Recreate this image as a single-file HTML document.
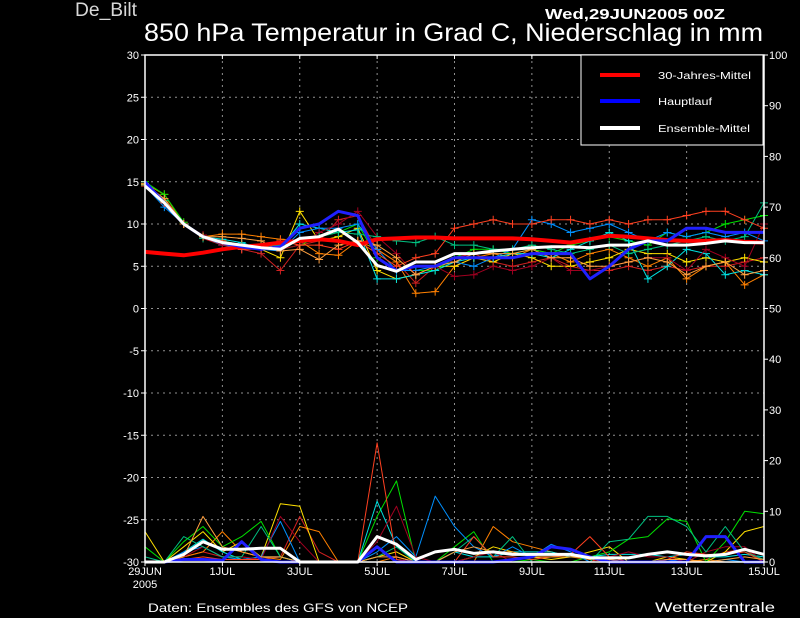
<!DOCTYPE html>
<html><head><meta charset="utf-8"><style>
html,body{margin:0;padding:0;background:#000;}
svg{display:block;font-family:"Liberation Sans",sans-serif;}
</style></head><body>
<svg id="c" width="800" height="618" viewBox="0 0 800 618">
<text x="75" y="16" fill="#d8d8d8" font-size="19" textLength="62" lengthAdjust="spacingAndGlyphs">De_Bilt</text>
<text x="545" y="19" fill="#fff" font-size="15" font-weight="bold" textLength="180" lengthAdjust="spacingAndGlyphs">Wed,29JUN2005 00Z</text>
<text x="144" y="41" fill="#fff" font-size="25" textLength="619" lengthAdjust="spacingAndGlyphs">850 hPa Temperatur in Grad C, Niederschlag in mm</text>
<g id="grid"></g>
<g id="series"></g>
<g id="axes"></g>
<g>
<rect x="581" y="55" width="182" height="90" fill="#000" stroke="#fff" stroke-width="1"/>
<line x1="600" y1="75" x2="640" y2="75" stroke="#ff0000" stroke-width="4"/>
<text x="658" y="79" fill="#fff" font-size="10" textLength="93" lengthAdjust="spacingAndGlyphs">30-Jahres-Mittel</text>
<line x1="600" y1="101" x2="640" y2="101" stroke="#0000ff" stroke-width="4"/>
<text x="658" y="105" fill="#fff" font-size="10" textLength="54" lengthAdjust="spacingAndGlyphs">Hauptlauf</text>
<line x1="600" y1="128" x2="640" y2="128" stroke="#fff" stroke-width="4"/>
<text x="658" y="132" fill="#fff" font-size="10" textLength="92" lengthAdjust="spacingAndGlyphs">Ensemble-Mittel</text>
</g>
<text x="148" y="612" fill="#fff" font-size="12" textLength="260" lengthAdjust="spacingAndGlyphs">Daten: Ensembles des GFS von NCEP</text>
<text x="655" y="612" fill="#fff" font-size="14" textLength="120" lengthAdjust="spacingAndGlyphs">Wetterzentrale</text>
</svg>
<script>
const xLabels=["29JUN","1JUL","3JUL","5JUL","7JUL","9JUL","11JUL","13JUL","15JUL"];
const leftTicks=[30,25,20,15,10,5,0,-5,-10,-15,-20,-25,-30];
const rightTicks=[100,90,80,70,60,50,40,30,20,10,0];
const memberColors=["#d02020","#ff8000","#ffe000","#00e000","#00e0e0","#0090ff","#a00020","#00c080","#ff4020","#ffa040"];
const tempMembers=[
[14.5,13,10.2,8.3,7.5,7,6.5,4.5,7.5,8,10.5,11,7,5.5,3,5,6,6.5,5.5,5,5.5,6,5,4.5,4.5,5,4.5,5,4.5,5,5,5.5,6],
[14.8,13.5,10,8.5,8.8,8.8,8.5,8.2,8,6.5,6.3,8,7,5.5,1.8,2,5,6,6.5,6,7,6.5,5.5,6.5,7,6,5,6,3.5,5,5.5,2.8,4],
[14.6,12.6,10,8.5,8,7.5,7,6,11.5,8,8.5,9.5,4.5,3.5,4,5,5,6,5.5,6.5,6,5,5,5.5,6,7,6.5,6.5,5.5,6,5.5,6,5.5],
[15,13.5,10.2,8.5,8,7.5,7.5,7,7.5,8.5,9,10,6,4.5,4.5,4.5,6,7,7,6.5,7,6.5,7.5,8,8.5,8,7.5,9,8.5,9,10,10.5,11],
[14.7,12.5,10,8.5,8.2,7.8,7,7.2,10,9.5,9,9.3,3.5,3.5,4,4.5,5.5,6,6,6.5,6.5,6,7,8,9,8,3.5,5,7,6.5,4,4.5,4],
[14.5,12,10,8.5,7.5,7.2,7,6.8,9,9.5,9.5,10,7,4.5,4.5,5,5.5,5,6,7,10.5,10,9,9.5,10,9,8,9,8.5,9,8.5,9,8],
[14.5,12.5,10,8.7,7.5,7.5,7,7,7.5,9,10,11.5,8.5,6.5,4,5,3.8,4,5,4.5,5,6,4.5,4.5,5,5.5,6,6,4.5,7,6,5,10],
[14.6,12.8,10,8.3,8,7.5,7.3,7.5,8,8.5,9,8.8,8.5,8,7.8,8.5,7.5,7.5,7,7,7.5,7,6.5,7,7.5,6.5,7,7.5,8,8.5,8,8.5,12.5],
[14.5,12.5,10,8.5,8,7,7,8,7.5,7.5,7,8,6.5,5,6,6.5,9.5,10,10.5,10,10,10.5,10.5,10,10.5,10,10.5,10.5,11,11.5,11.5,10.5,9.5],
[14.7,13,10,8.5,8.5,8.3,8,6.8,7,5.8,7.5,8,7.5,6,4,5,5.5,6.5,6.5,6.5,7,6,6,5,5,5.5,6,5.5,4,5,5.5,4,4.5]];
const precipMembers=[
[0,0,1,2,1,1,0.5,1,9,2,0,0,0,0,0,0,0,0,0,0,0,0,0,0,0,0,0,0,0,0.5,2,2.5,0],
[0,0,1,2,6,2,1,0.5,7,6,0,0,0,1,0,0,0,0,7,4,3,2,1,0.5,0,0,0,0,0,0.5,0,0,0],
[6,0,3,6,2,4,1,11.5,11,0,0,0,1,2,0,0,0,1,3,2,1,0.5,1,2,3,0,0,1,0.5,0,2,6,7],
[3,0,4,7,3,5,8,1,0,0,0,0,9,16,0,0,3,6,0,0,0.5,0,0,1,2,4.5,5,8.5,8,0,4,10,9.5],
[0,0,2,4.5,2,0.5,1,1,0,0,0,0,12,3,0,0,2,1,1,2,2,2,1,1,1.5,1.5,1.5,1,1.5,1,1,1.5,1],
[0,0,2,3,1,0.5,1,8,0,0,0,0,2,5,1,13,7,3,1,3,1,3.5,2,0,0,0,0,0.5,0,0,0.5,0,0],
[0,0,1,3,1,1,0.5,9,4,0,0,0,4,11,1,0,0,1,2,0,0,0,0,0,1,2,1,1,0,2,3,3,0],
[1,0,5,3,1,1,7,1,0,0,0,0,1,3,0,0,2,5,1,5,0,0,0,0,4,4.5,9,9,7,2,7,2,0.5],
[0,0,0.5,1,0.5,0.5,0.5,0,0,0,0,0,23.5,0.5,0,0,0,5,1,1,0.5,1,1.5,5,1,0,0,0.5,2,1.5,1.5,2,0],
[0,0,1,9,3,2,1,1,0,0,0,0,1,1,0,0,2,3,2,2,1,1,1,1,0.5,0,0,0.5,0.5,0,0.5,1,0.5]];
const climateTemp=[6.7,6.5,6.3,6.6,7,7.3,7.5,7.8,8,8.2,8,7.5,8.2,8.3,8.4,8.4,8.3,8.3,8.3,8.3,8.2,8,7.8,8.2,8.6,8.5,8.3,8.1,8,8,8.1,7.9,7.8];
const mainTemp=[15,12.5,10,8.5,7.8,7.3,7,7.3,9.5,10,11.5,11,6,4.5,5,5,6,6,6,6,6.5,6.5,6.5,3.5,5,7,8,8,9.5,9.5,9,9,9];
const meanTemp=[14.5,12.5,10,8.5,7.8,7.5,7.2,7,8.3,8.5,9.4,7.8,5.1,4.4,5.5,5.5,6.5,6.5,6.8,7,7.2,7.3,7.3,7.2,7.5,7.5,8,7.5,7.5,7.7,8,7.8,7.8];
const mainPrecip=[0,0,0.5,0.5,0.3,4,0.5,0,0,0,0,0,3,0,0,0,0,0,0,0.5,1,3,2.5,1,0,0,0,0,0,5,5,0,0];
const meanPrecip=[0,0,1.5,4,2.5,2.5,2.7,2.7,0,0,0,0,5,3.5,0.5,2,2.5,1.7,2,1.5,1.5,1.5,1.5,0.8,0.8,0.8,1.5,2,1.5,1.2,1.5,2.5,1.5];

const NS="http://www.w3.org/2000/svg";
const L=145,R=764,T=55,B=562;
function X(i){return L+i*(R-L)/32;}
function YT(v){return T+(30-v)*(B-T)/60;}
function YP(v){return B-v*(B-T)/100;}
function mk(tag,attrs,parent){const e=document.createElementNS(NS,tag);for(const k in attrs)e.setAttribute(k,attrs[k]);parent.appendChild(e);return e;}
const grid=document.getElementById('grid'),ser=document.getElementById('series'),ax=document.getElementById('axes');
leftTicks.forEach((v,k)=>{
  const y=YT(v);
  if(v!==30&&v!==-30){const g=mk('line',{x1:L,x2:R,y1:y,y2:y,stroke:'#909090','stroke-dasharray':'2,4','stroke-width':1},grid);
  
  }
  const t=mk('text',{x:L-6,y:y+4,fill:'#fff','font-size':11,'text-anchor':'end'},ax);t.textContent=v;
  
  
  mk('line',{x1:L-4,x2:L,y1:y,y2:y,stroke:'#fff'},ax);
});
rightTicks.forEach(v=>{
  const y=YP(v);
  const t=mk('text',{x:R+5,y:y+4,fill:'#fff','font-size':11},ax);t.textContent=v;
  
  
  mk('line',{x1:R,x2:R+4,y1:y,y2:y,stroke:'#fff'},ax);
});
xLabels.forEach((s,k)=>{
  const x=X(k*4);
  if(k>0&&k<8){const g=mk('line',{x1:x,x2:x,y1:T,y2:B,stroke:'#909090','stroke-dasharray':'2,4'},grid);
  
  }
  mk('line',{x1:x,x2:x,y1:B,y2:B+4,stroke:'#fff'},ax);
  mk('line',{x1:x,x2:x,y1:T,y2:T+4,stroke:'#fff'},ax);
  const t=mk('text',{x:x,y:B+13,fill:'#fff','font-size':11,'text-anchor':'middle'},ax);t.textContent=s;
  
  
});
const yr=mk('text',{x:145,y:588,fill:'#fff','font-size':11,'text-anchor':'middle'},ax);yr.textContent='2005';


const frame=mk('rect',{x:L,y:T,width:R-L,height:B-T,fill:'none',stroke:'#fff','stroke-width':1.5},ax);



function line(arr,Y,color,w,name,markers){
  const pts=arr.map((v,i)=>X(i).toFixed(1)+','+Y(v).toFixed(1)).join(' ');
  const p=mk('polyline',{points:pts,fill:'none',stroke:color,'stroke-width':w,'stroke-linejoin':'round'},ser);
  
  
  if(markers){arr.forEach((v,i)=>{const x=X(i),y=Y(v);
    mk('path',{d:`M${x-4},${y}H${x+4}M${x},${y-4}V${y+4}`,stroke:color,'stroke-width':1},ser);});}
}
precipMembers.forEach((a,k)=>line(a,YP,memberColors[k],1,'precip-member',false));
line(mainPrecip,YP,'#2020ff',3,'precip-main-run',false);
line(meanPrecip,YP,'#fff',3,'precip-ensemble-mean',false);
tempMembers.forEach((a,k)=>line(a,YT,memberColors[k],1,'temp-member',true));
line(climateTemp,YT,'#ff0000',4,'temp-climate-mean',false);
line(mainTemp,YT,'#2020ff',3,'temp-main-run',false);
line(meanTemp,YT,'#fff',3,'temp-ensemble-mean',false);
</script>
</body></html>
